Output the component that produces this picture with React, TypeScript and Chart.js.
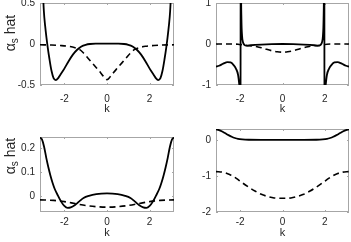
import React, { useEffect, useRef } from "react";
import { Chart, registerables } from "chart.js";

Chart.register(...registerables);

// ---------- data ----------
const xTicks = [-2, 0, 2];
const kMin = -3.1416;
const kMax = 3.1416;

// top-left
const tlYTicks = [-0.5, 0, 0.5];
const kTLs = [-3.1416, -3.08, -3.02, -2.96, -2.9, -2.84, -2.78, -2.7, -2.6, -2.5, -2.4, -2.3, -2.2, -2.0, -1.8, -1.6, -1.4, -1.2, -1.0, -0.8, -0.5, 0, 0.5, 0.8, 1.0, 1.2, 1.4, 1.6, 1.8, 2.0, 2.2, 2.3, 2.4, 2.5, 2.6, 2.7, 2.78, 2.84, 2.9, 2.96, 3.02, 3.08, 3.1416];
const tlSolid = [2.0, 1.3, 0.75, 0.4, 0.22, 0.08, -0.04, -0.18, -0.33, -0.42, -0.44, -0.42, -0.38, -0.3, -0.21, -0.13, -0.07, -0.03, -0.01, 0.0, 0.004, 0.005, 0.004, 0.0, -0.01, -0.03, -0.07, -0.13, -0.21, -0.3, -0.38, -0.42, -0.44, -0.42, -0.33, -0.18, -0.04, 0.08, 0.22, 0.4, 0.75, 1.3, 2.0];
const kTLd = [-3.1416, -2.6, -2.2, -1.8, -1.5, -1.3, -1.1, -0.9, -0.7, -0.5, -0.3, -0.15, 0, 0.15, 0.3, 0.5, 0.7, 0.9, 1.1, 1.3, 1.5, 1.8, 2.2, 2.6, 3.1416];
const tlDash = [-0.01, -0.012, -0.018, -0.028, -0.045, -0.065, -0.11, -0.17, -0.23, -0.29, -0.35, -0.4, -0.435, -0.4, -0.35, -0.29, -0.23, -0.17, -0.11, -0.065, -0.045, -0.028, -0.018, -0.012, -0.01];

// top-right
const trYTicks = [-1, 0, 1];
const kTRs = [-3.1416, -3.0, -2.8, -2.6, -2.45, -2.3, -2.2, -2.1, -2.04, -2.0, -1.985, -1.975, -1.96, -1.94, -1.91, -1.87, -1.8, -1.7, -1.5, -1.0, -0.5, 0, 0.5, 1.0, 1.5, 1.7, 1.8, 1.87, 1.91, 1.94, 1.96, 1.975, 1.985, 2.0, 2.04, 2.1, 2.2, 2.3, 2.45, 2.6, 2.8, 3.0, 3.1416];
const trSolid = [-0.55, -0.53, -0.48, -0.44, -0.45, -0.52, -0.6, -0.75, -1.0, -1.6, -4, 4, 1.5, 0.6, 0.2, 0.05, -0.02, -0.04, -0.03, -0.015, -0.005, 0, -0.005, -0.015, -0.03, -0.04, -0.02, 0.05, 0.2, 0.6, 1.5, 4, -4, -1.6, -1.0, -0.75, -0.6, -0.52, -0.45, -0.44, -0.48, -0.53, -0.55];
const kTRd = [-3.1416, -2.5, -2.1, -1.9, -1.7, -1.4, -1.2, -1.0, -0.75, -0.5, -0.25, 0, 0.25, 0.5, 0.75, 1.0, 1.2, 1.4, 1.7, 1.9, 2.1, 2.5, 3.1416];
const trDash = [0, 0, -0.005, -0.02, -0.035, -0.05, -0.065, -0.09, -0.13, -0.165, -0.19, -0.2, -0.19, -0.165, -0.13, -0.09, -0.065, -0.05, -0.035, -0.02, -0.005, 0, 0];

// bottom-left
const blYTicks = [0, 0.1, 0.2];
const kBLs = [-3.1416, -3.05, -2.95, -2.85, -2.75, -2.65, -2.55, -2.45, -2.3, -2.15, -2.0, -1.85, -1.7, -1.5, -1.3, -1.1, -0.85, -0.5, 0, 0.5, 0.85, 1.1, 1.3, 1.5, 1.7, 1.85, 2.0, 2.15, 2.3, 2.45, 2.55, 2.65, 2.75, 2.85, 2.95, 3.05, 3.1416];
const blSolid = [0.243, 0.235, 0.205, 0.16, 0.12, 0.085, 0.055, 0.03, 0.003, -0.022, -0.04, -0.048, -0.046, -0.036, -0.021, -0.007, 0.002, 0.009, 0.012, 0.009, 0.002, -0.007, -0.021, -0.036, -0.046, -0.048, -0.04, -0.022, 0.003, 0.03, 0.055, 0.085, 0.12, 0.16, 0.205, 0.235, 0.243];
const kBLd = [-3.1416, -2.5, -2.0, -1.5, -1.0, -0.5, 0, 0.5, 1.0, 1.5, 2.0, 2.5, 3.1416];
const blDash = [-0.015, -0.017, -0.022, -0.03, -0.038, -0.043, -0.045, -0.043, -0.038, -0.03, -0.022, -0.017, -0.015];

// bottom-right
const brYTicks = [-2, -1, 0];
const kBRs = [-3.1416, -3.0, -2.85, -2.7, -2.55, -2.4, -2.25, -2.1, -1.9, -1.6, -1.0, 0, 1.0, 1.6, 1.9, 2.1, 2.25, 2.4, 2.55, 2.7, 2.85, 3.0, 3.1416];
const brSolid = [0.29, 0.27, 0.23, 0.18, 0.13, 0.085, 0.05, 0.025, 0.01, 0.002, 0, 0, 0, 0.002, 0.01, 0.025, 0.05, 0.085, 0.13, 0.18, 0.23, 0.27, 0.29];
const kBRd = [-3.1416, -2.8, -2.5, -2.2, -1.9, -1.6, -1.3, -1.0, -0.7, -0.4, 0, 0.4, 0.7, 1.0, 1.3, 1.6, 1.9, 2.2, 2.5, 2.8, 3.1416];
const brDash = [-0.88, -0.9, -0.96, -1.06, -1.19, -1.31, -1.42, -1.51, -1.57, -1.61, -1.62, -1.61, -1.57, -1.51, -1.42, -1.31, -1.19, -1.06, -0.96, -0.9, -0.88];

const xLabel = "k";
const yLabelMain = "α";
const yLabelSub = "s";
const yLabelTail = " hat";

// ---------- layout / style ----------
const FONT = '"Liberation Sans", Arial, Helvetica, sans-serif';
const TEXT = "#262626";
const BOX = "#a6a6a6";

type Panel = {
  left: number; top: number; w: number; h: number;
  area: { l: number; t: number; r: number; b: number };
  yMin: number; yMax: number; yTicks: number[];
  solidK: number[]; solid: number[]; dashK: number[]; dash: number[];
  ylabel: boolean; ylabelCy: number; kBase: number; tickPad: number;
};

const panels: Panel[] = [
  { left: 0, top: 0, w: 175, h: 121, area: { l: 40, t: 3, r: 174, b: 85 }, yMin: -0.5, yMax: 0.5, yTicks: tlYTicks,
    solidK: kTLs, solid: tlSolid, dashK: kTLd, dash: tlDash, ylabel: true, ylabelCy: 33, kBase: 112, tickPad: 8 },
  { left: 175, top: 0, w: 176, h: 121, area: { l: 41, t: 3, r: 174, b: 85 }, yMin: -1, yMax: 1, yTicks: trYTicks,
    solidK: kTRs, solid: trSolid, dashK: kTRd, dash: trDash, ylabel: false, ylabelCy: 0, kBase: 112, tickPad: 8 },
  { left: 0, top: 121, w: 175, h: 121, area: { l: 40, t: 16, r: 174, b: 91 }, yMin: -0.065, yMax: 0.245, yTicks: blYTicks,
    solidK: kBLs, solid: blSolid, dashK: kBLd, dash: blDash, ylabel: true, ylabelCy: 35, kBase: 115, tickPad: 4 },
  { left: 175, top: 121, w: 176, h: 121, area: { l: 41, t: 8, r: 174, b: 91 }, yMin: -2, yMax: 0.3, yTicks: brYTicks,
    solidK: kBRs, solid: brSolid, dashK: kBRd, dash: brDash, ylabel: false, ylabelCy: 0, kBase: 115, tickPad: 4 },
];

const framePlugin = {
  id: "frame",
  beforeDatasetsDraw(chart: any) {
    const { ctx, chartArea: a } = chart;
    ctx.save();
    ctx.strokeStyle = BOX;
    ctx.lineWidth = 1;
    ctx.strokeRect(Math.round(a.left) + 0.5, Math.round(a.top) + 0.5, Math.round(a.right - a.left) - 1, Math.round(a.bottom - a.top) - 1);
    const xs = chart.scales.x;
    const ys = chart.scales.y;
    ctx.beginPath();
    for (const v of xTicks) {
      const px = Math.round(xs.getPixelForValue(v)) + 0.5;
      ctx.moveTo(px, a.bottom); ctx.lineTo(px, a.bottom - 2);
      ctx.moveTo(px, a.top); ctx.lineTo(px, a.top + 2);
    }
    for (const t of ys.ticks) {
      const py = Math.round(ys.getPixelForValue(t.value)) + 0.5;
      ctx.moveTo(a.left, py); ctx.lineTo(a.left + 2, py);
      ctx.moveTo(a.right, py); ctx.lineTo(a.right - 2, py);
    }
    ctx.stroke();
    ctx.restore();
  },
  afterDraw(chart: any, _args: any, opts: any) {
    const { ctx, chartArea: a } = chart;
    ctx.save();
    ctx.fillStyle = TEXT;
    ctx.font = `11px ${FONT}`;
    ctx.textAlign = "center";
    ctx.textBaseline = "alphabetic";
    ctx.fillText(xLabel, (a.left + a.right) / 2, opts.kBase);
    if (opts.ylabel) {
      ctx.translate(15, opts.ylabelCy);
      ctx.rotate(-Math.PI / 2);
      ctx.textAlign = "left";
      const big = `14px ${FONT}`;
      const small = `10px ${FONT}`;
      ctx.font = big;
      const w1 = ctx.measureText(yLabelMain).width;
      const w3 = ctx.measureText(yLabelTail).width;
      ctx.font = small;
      const w2 = ctx.measureText(yLabelSub).width;
      let x = -(w1 + w2 + w3) / 2;
      ctx.font = big;
      ctx.fillText(yLabelMain, x, 0);
      x += w1;
      ctx.font = small;
      ctx.fillText(yLabelSub, x, 3);
      x += w2;
      ctx.font = big;
      ctx.fillText(yLabelTail, x, 0);
    }
    ctx.restore();
  },
};

function PanelChart({ p }: { p: Panel }) {
  const ref = useRef<HTMLCanvasElement | null>(null);
  useEffect(() => {
    if (!ref.current) return;
    const chart = new Chart(ref.current, {
      type: "scatter",
      data: {
        datasets: [
          {
            data: p.dashK.map((x, i) => ({ x, y: p.dash[i] })),
            showLine: true,
            borderColor: "#000",
            borderWidth: 1.6,
            borderDash: [6, 4],
            pointRadius: 0,
            cubicInterpolationMode: "monotone",
          },
          {
            data: p.solidK.map((x, i) => ({ x, y: p.solid[i] })),
            showLine: true,
            borderColor: "#000",
            borderWidth: 1.8,
            pointRadius: 0,
            cubicInterpolationMode: "monotone",
          },
        ],
      },
      options: {
        animation: false,
        responsive: false,
        devicePixelRatio: 1,
        events: [],
        layout: { padding: { left: 0, top: p.area.t, right: p.w - p.area.r, bottom: 0 } },
        plugins: {
          legend: { display: false },
          tooltip: { enabled: false },
          frame: { ylabel: p.ylabel, ylabelCy: p.ylabelCy, kBase: p.kBase },
        } as any,
        scales: {
          x: {
            type: "linear",
            min: kMin,
            max: kMax,
            grid: { display: false, drawTicks: false, tickLength: 0 },
            border: { display: false },
            ticks: {
              autoSkip: false,
              maxRotation: 0,
              padding: p.tickPad,
              color: TEXT,
              font: { family: FONT, size: 10 },
              callback: (v: any) => String(v),
            },
            afterBuildTicks: (s: any) => { s.ticks = xTicks.map((v) => ({ value: v })); },
            afterFit: (s: any) => {
              s.height = p.h - p.area.b;
              s.paddingLeft = 0; s.paddingRight = 0;
            },
          },
          y: {
            type: "linear",
            min: p.yMin,
            max: p.yMax,
            grid: { display: false, drawTicks: false, tickLength: 0 },
            border: { display: false },
            ticks: {
              autoSkip: false,
              padding: 5,
              color: TEXT,
              font: { family: FONT, size: 10 },
              callback: (v: any) => String(v),
            },
            afterBuildTicks: (s: any) => { s.ticks = p.yTicks.map((v) => ({ value: v })); },
            afterFit: (s: any) => {
              s.width = p.area.l;
              s.paddingTop = 0; s.paddingBottom = 0;
            },
          },
        },
      },
      plugins: [framePlugin],
    } as any);
    return () => chart.destroy();
  }, [p]);
  return (
    <canvas
      ref={ref}
      width={p.w}
      height={p.h}
      style={{ position: "absolute", left: p.left, top: p.top, width: p.w, height: p.h }}
    />
  );
}

export default function App() {
  return (
    <div style={{ position: "fixed", left: 0, top: 0, width: 351, height: 242, background: "#fff", overflow: "hidden" }}>
      {panels.map((p, i) => (
        <PanelChart key={i} p={p} />
      ))}
    </div>
  );
}
